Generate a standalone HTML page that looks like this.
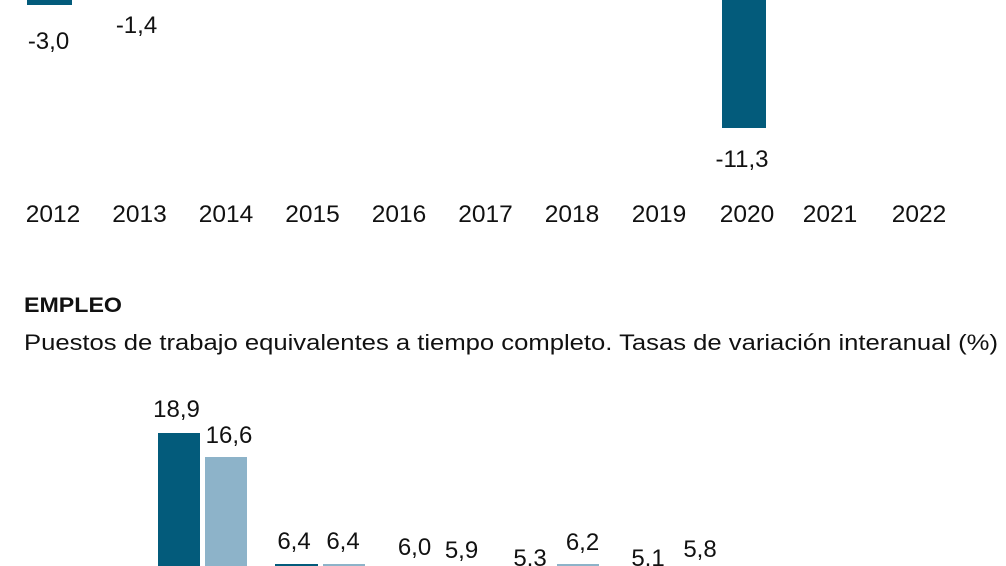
<!DOCTYPE html>
<html>
<head>
<meta charset="utf-8">
<style>
  html,body{margin:0;padding:0;background:#fff;}
  body{width:1006px;height:566px;overflow:hidden;}
  svg{display:block;}
  text{font-family:"Liberation Sans", Arial, sans-serif;fill:#111;}
</style>
</head>
<body>
<svg width="1006" height="566" viewBox="0 0 1006 566" xmlns="http://www.w3.org/2000/svg">
  <rect x="0" y="0" width="1006" height="566" fill="#ffffff"/>

  <!-- Top chart bars (cut off) -->
  <rect x="27" y="0" width="45" height="5" fill="#035b7b"/>
  <rect x="722" y="0" width="44" height="128" fill="#035b7b"/>

  <!-- Top chart value labels -->
  <g font-size="24">
    <text x="48.5" y="49" text-anchor="middle">-3,0</text>
    <text x="136.5" y="33" text-anchor="middle">-1,4</text>
    <text x="742" y="167" text-anchor="middle">-11,3</text>
  </g>

  <!-- Year labels -->
  <g font-size="24.5">
    <text x="53" y="222" text-anchor="middle">2012</text>
    <text x="139.5" y="222" text-anchor="middle">2013</text>
    <text x="226" y="222" text-anchor="middle">2014</text>
    <text x="312.5" y="222" text-anchor="middle">2015</text>
    <text x="399" y="222" text-anchor="middle">2016</text>
    <text x="485.5" y="222" text-anchor="middle">2017</text>
    <text x="572" y="222" text-anchor="middle">2018</text>
    <text x="659" y="222" text-anchor="middle">2019</text>
    <text x="747" y="222" text-anchor="middle">2020</text>
    <text x="830" y="222" text-anchor="middle">2021</text>
    <text x="919" y="222" text-anchor="middle">2022</text>
  </g>

  <!-- Title and subtitle -->
  <text x="24" y="312" font-size="21" font-weight="bold" textLength="98" lengthAdjust="spacingAndGlyphs">EMPLEO</text>
  <text x="24" y="350" font-size="22" textLength="974" lengthAdjust="spacingAndGlyphs">Puestos de trabajo equivalentes a tiempo completo. Tasas de variación interanual (%)</text>

  <!-- Bottom chart bars -->
  <rect x="158" y="433" width="42" height="140" fill="#035b7b"/>
  <rect x="205" y="457" width="42" height="120" fill="#8db3c9"/>
  <rect x="275" y="564" width="43" height="10" fill="#035b7b"/>
  <rect x="323" y="564" width="42" height="10" fill="#8db3c9"/>
  <rect x="557" y="564" width="42" height="10" fill="#8db3c9"/>

  <!-- Bottom chart value labels -->
  <g font-size="24">
    <text x="176.5" y="417" text-anchor="middle">18,9</text>
    <text x="229" y="443" text-anchor="middle">16,6</text>
    <text x="294" y="549" text-anchor="middle">6,4</text>
    <text x="343" y="549" text-anchor="middle">6,4</text>
    <text x="414.5" y="555" text-anchor="middle">6,0</text>
    <text x="461.5" y="558" text-anchor="middle">5,9</text>
    <text x="530" y="566" text-anchor="middle">5,3</text>
    <text x="582.5" y="550" text-anchor="middle">6,2</text>
    <text x="648" y="566" text-anchor="middle">5,1</text>
    <text x="700" y="557" text-anchor="middle">5,8</text>
  </g>
</svg>
</body>
</html>
